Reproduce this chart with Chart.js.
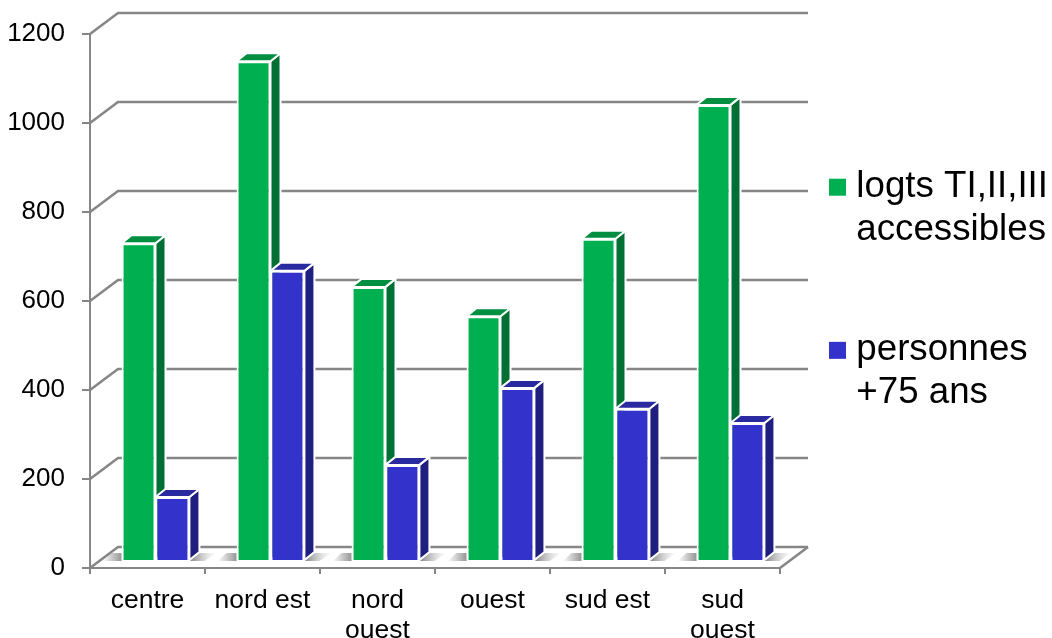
<!DOCTYPE html>
<html>
<head>
<meta charset="utf-8">
<title>Logements accessibles et personnes de plus de 75 ans</title>
<script src="https://cdn.jsdelivr.net/npm/chart.js@4/dist/chart.umd.min.js"></script>
<style>
    html, body { margin: 0; padding: 0; background: #fff; overflow: hidden; }
    #wrap { position: relative; width: 1052px; height: 638px; }
</style>
</head>
<body>
<div id="wrap"><canvas id="graficoBarras"></canvas></div>
<script>
var categories = ['centre', 'nord est', ['nord', 'ouest'], 'ouest', 'sud est', ['sud', 'ouest']];
var logements = [714, 1123, 616, 550, 724, 1025];
var personnes = [144, 652, 216, 389, 342, 310];
var serieLogements = ['logts TI,II,III', 'accessibles'];
var seriePersonnes = ['personnes', '+75 ans'];
var yTicks = [0, 200, 400, 600, 800, 1000, 1200];

var gris = '#868686';

// fake 3D: back wall offset and bar depth, in pixels
var murDx = 28, murDy = -21;
var barDx = 8, barDy = -7;
var profX = 10, profY = -8;

var faces = [
    { front: '#00B050', side: '#006F34', top: '#008F40' },
    { front: '#3333CC', side: '#1F1F80', top: '#2929A0' }
];

function poly(ctx, pts, fill) {
    ctx.beginPath();
    ctx.moveTo(pts[0][0], pts[0][1]);
    for (var i = 1; i < pts.length; i++) ctx.lineTo(pts[i][0], pts[i][1]);
    ctx.closePath();
    ctx.fillStyle = fill;
    ctx.fill();
}

function dessineProfondeur(chart, index) {
    var ctx = chart.ctx;
    var c = faces[index];
    ctx.save();
    ctx.translate(barDx, barDy);
    ctx.strokeStyle = '#fff';
    ctx.lineWidth = 2;
    ctx.lineJoin = 'round';
    chart.getDatasetMeta(index).data.forEach(function (el) {
        var l = el.x - el.width / 2, r = el.x + el.width / 2;
        var t = el.y, b = el.base;
        var side = [[r, t], [r + profX, t + profY], [r + profX, b + profY], [r, b]];
        var top = [[l, t], [l + profX, t + profY], [r + profX, t + profY], [r, t]];
        poly(ctx, side, c.side);
        ctx.stroke();
        poly(ctx, top, c.top);
        ctx.stroke();
    });
    ctx.restore();
}

function dessineOmbres(chart) {
    var ctx = chart.ctx;
    var y0 = chart.scales.y.getPixelForValue(0) + barDy;
    chart.getDatasetMeta(0).data.forEach(function (el) {
        var l = el.x - el.width / 2 + barDx;
        var g = ctx.createLinearGradient(l - 19, 0, l, 0);
        g.addColorStop(0, 'rgba(150,150,150,0)');
        g.addColorStop(1, 'rgba(150,150,150,1)');
        poly(ctx, [[l - 19, y0], [l, y0], [l, y0 - 8], [l - 10, y0 - 8]], g);
    });
    chart.getDatasetMeta(1).data.forEach(function (el) {
        var r = el.x + el.width / 2 + barDx;
        var g = ctx.createLinearGradient(r, 0, r + 27, 0);
        g.addColorStop(0, 'rgba(130,130,130,1)');
        g.addColorStop(1, 'rgba(190,190,190,0)');
        poly(ctx, [[r, y0], [r + profX, y0 + profY], [r + 27, y0 + profY], [r + 15, y0]], g);
    });
}

var pseudo3d = {
    id: 'pseudo3d',
    afterLayout: function (chart) {
        // legend sits closer to the plot and higher than the layout puts it
        var legend = chart.legend;
        legend.left = 759;
        legend.right = chart.width;
        legend.top -= 43;
        legend.bottom -= 43;
    },
    beforeDatasetsDraw: function (chart) {
        var ctx = chart.ctx;
        var area = chart.chartArea;
        var y = chart.scales.y;
        ctx.save();
        ctx.strokeStyle = gris;
        ctx.lineWidth = 2.5;
        yTicks.forEach(function (v) {
            var py = y.getPixelForValue(v);
            ctx.beginPath();
            ctx.moveTo(area.left, py);
            ctx.lineTo(area.left + murDx, py + murDy);
            ctx.lineTo(area.right + murDx, py + murDy);
            ctx.stroke();
        });
        // bord droit du plancher
        ctx.beginPath();
        ctx.moveTo(area.right + murDx, area.bottom + murDy);
        ctx.lineTo(area.right, area.bottom);
        ctx.stroke();
        ctx.restore();
        dessineOmbres(chart);
        dessineProfondeur(chart, 0);
    },
    beforeDatasetDraw: function (chart) {
        chart.ctx.save();
        chart.ctx.translate(barDx, barDy);
    },
    afterDatasetDraw: function (chart) {
        chart.ctx.restore();
    },
    afterDatasetsDraw: function (chart) {
        dessineProfondeur(chart, 1);
    }
};

document.addEventListener('DOMContentLoaded', function () {
    var ctxBarras = document.getElementById('graficoBarras').getContext('2d');
    Chart.defaults.font.family = '"Liberation Sans", Arial, sans-serif';
    Chart.defaults.color = '#000';
    var graficoBarras = new Chart(ctxBarras, {
        type: 'bar',
        data: {
            labels: categories,
            datasets: [{
                label: serieLogements,
                data: logements,
                backgroundColor: faces[0].front,
                borderColor: '#fff',
                borderWidth: 2,
                clip: false
            }, {
                label: seriePersonnes,
                data: personnes,
                backgroundColor: faces[1].front,
                borderColor: '#fff',
                borderWidth: 2,
                clip: false
            }]
        },
        options: {
            responsive: true,
            maintainAspectRatio: false,
            animation: false,
            layout: { padding: { top: 34, left: 0, right: 12, bottom: 0 } },
            categoryPercentage: 0.59,
            barPercentage: 1,
            scales: {
                x: {
                    afterFit: function (scale) { scale.height = 70; },
                    border: { color: gris, width: 2 },
                    grid: { color: gris, lineWidth: 2, drawOnChartArea: false, drawTicks: true, tickLength: 6, offset: true },
                    ticks: { font: { size: 26.5, lineHeight: 1.15 }, padding: 11, maxRotation: 0, autoSkip: false }
                },
                y: {
                    min: 0,
                    max: 1200,
                    afterFit: function (scale) { scale.width = 90; },
                    afterBuildTicks: function (scale) {
                        scale.ticks = yTicks.map(function (v) { return { value: v }; });
                    },
                    border: { color: gris, width: 2 },
                    grid: { color: gris, lineWidth: 2, drawOnChartArea: false, drawTicks: true, tickLength: 8 },
                    ticks: {
                        font: { size: 26 },
                        padding: 17,
                        callback: function (v) { return String(v); }
                    }
                }
            },
            plugins: {
                tooltip: { enabled: false },
                legend: {
                    position: 'right',
                    onClick: null,
                    labels: {
                        // 1px box with a thick stroke: gives a 17px square and the tighter text gap
                        boxWidth: 1,
                        boxHeight: 1,
                        padding: 78,
                        color: '#000',
                        font: { size: 36.7, lineHeight: 1.16 },
                        generateLabels: function (chart) {
                            return Chart.defaults.plugins.legend.labels.generateLabels(chart).map(function (item) {
                                item.strokeStyle = item.fillStyle;
                                item.lineWidth = 16;
                                return item;
                            });
                        }
                    }
                }
            }
        },
        plugins: [pseudo3d]
    });
});
</script>
</body>
</html>
